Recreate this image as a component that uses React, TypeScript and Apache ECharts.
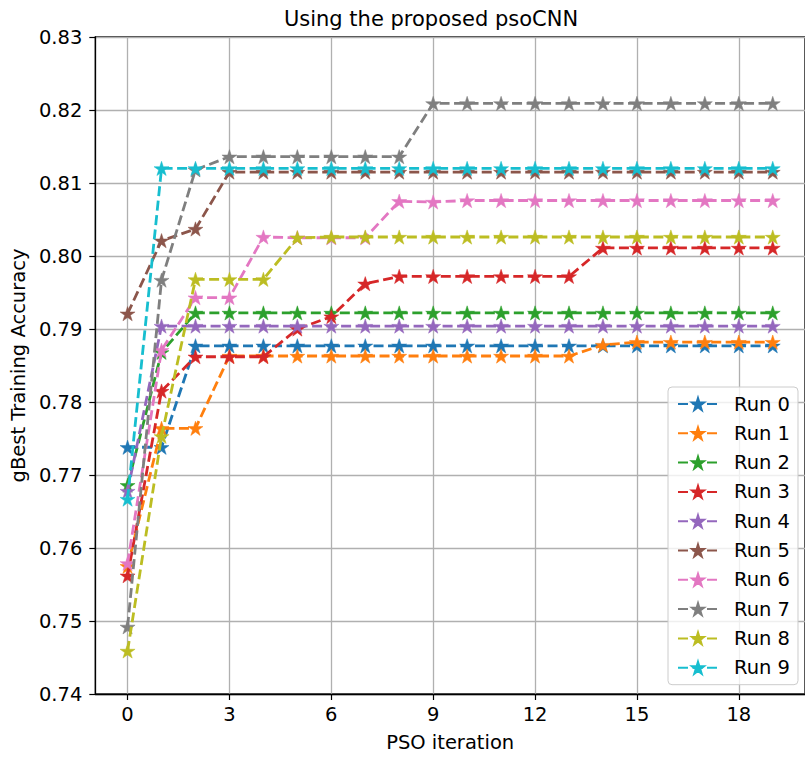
import React, { useEffect, useRef } from "react";
import * as echarts from "echarts";

const iterations = [0, 1, 2, 3, 4, 5, 6, 7, 8, 9, 10, 11, 12, 13, 14, 15, 16, 17, 18, 19];
const xTicks = [0, 3, 6, 9, 12, 15, 18];

const run0 = [0.7738, 0.7738, 0.7877, 0.7877, 0.7877, 0.7877, 0.7877, 0.7877, 0.7877, 0.7877, 0.7877, 0.7877, 0.7877, 0.7877, 0.7877, 0.7877, 0.7877, 0.7877, 0.7877, 0.7877];
const run1 = [0.7575, 0.7764, 0.7764, 0.7863, 0.7863, 0.7863, 0.7863, 0.7863, 0.7863, 0.7863, 0.7863, 0.7863, 0.7863, 0.7863, 0.7878, 0.7882, 0.7882, 0.7882, 0.7882, 0.7882];
const run2 = [0.7686, 0.7868, 0.7922, 0.7922, 0.7922, 0.7922, 0.7922, 0.7922, 0.7922, 0.7922, 0.7922, 0.7922, 0.7922, 0.7922, 0.7922, 0.7922, 0.7922, 0.7922, 0.7922, 0.7922];
const run3 = [0.7562, 0.7815, 0.7862, 0.7862, 0.7862, 0.7900, 0.7917, 0.7962, 0.7972, 0.7972, 0.7972, 0.7972, 0.7972, 0.7972, 0.8011, 0.8011, 0.8011, 0.8011, 0.8011, 0.8011];
const run4 = [0.7678, 0.7904, 0.7904, 0.7904, 0.7904, 0.7904, 0.7904, 0.7904, 0.7904, 0.7904, 0.7904, 0.7904, 0.7904, 0.7904, 0.7904, 0.7904, 0.7904, 0.7904, 0.7904, 0.7904];
const run5 = [0.7921, 0.8021, 0.8037, 0.8115, 0.8115, 0.8115, 0.8115, 0.8115, 0.8115, 0.8115, 0.8115, 0.8115, 0.8115, 0.8115, 0.8115, 0.8115, 0.8115, 0.8115, 0.8115, 0.8115];
const run6 = [0.7579, 0.7871, 0.7943, 0.7943, 0.8026, 0.8025, 0.8025, 0.8025, 0.8075, 0.8074, 0.8076, 0.8076, 0.8076, 0.8076, 0.8076, 0.8076, 0.8076, 0.8076, 0.8076, 0.8076];
const run7 = [0.7492, 0.7967, 0.8118, 0.8136, 0.8136, 0.8136, 0.8136, 0.8136, 0.8136, 0.8209, 0.8209, 0.8209, 0.8209, 0.8209, 0.8209, 0.8209, 0.8209, 0.8209, 0.8209, 0.8209];
const run8 = [0.7459, 0.7753, 0.7968, 0.7968, 0.7968, 0.8025, 0.8026, 0.8026, 0.8026, 0.8026, 0.8026, 0.8026, 0.8026, 0.8026, 0.8026, 0.8026, 0.8026, 0.8026, 0.8026, 0.8026];
const run9 = [0.7667, 0.8120, 0.8120, 0.8120, 0.8120, 0.8120, 0.8120, 0.8120, 0.8120, 0.8120, 0.8120, 0.8120, 0.8120, 0.8120, 0.8120, 0.8120, 0.8120, 0.8120, 0.8120, 0.8120];

const runs = [run0, run1, run2, run3, run4, run5, run6, run7, run8, run9];
const runNames = ["Run 0", "Run 1", "Run 2", "Run 3", "Run 4", "Run 5", "Run 6", "Run 7", "Run 8", "Run 9"];
const colors = ["#1f77b4", "#ff7f0e", "#2ca02c", "#d62728", "#9467bd", "#8c564b", "#e377c2", "#7f7f7f", "#bcbd22", "#17becf"];

function starPath(): string {
  const pts: string[] = [];
  for (let k = 0; k < 10; k++) {
    const a = (-90 + k * 36) * Math.PI / 180;
    const r = k % 2 === 0 ? 1 : 0.382;
    pts.push(`${(r * Math.cos(a)).toFixed(4)} ${(r * Math.sin(a)).toFixed(4)}`);
  }
  return "path://M" + pts.join(" L") + " Z";
}

const FONT = "DejaVu Sans";

export default function App() {
  const ref = useRef<HTMLDivElement>(null);
  useEffect(() => {
    if (!ref.current) return;
    const chart = echarts.init(ref.current, undefined, { renderer: "svg" });
    const star = starPath();
    const option: any = {
      animation: false,
      backgroundColor: "#ffffff",
      tooltip: { show: false },
      grid: {
        left: 95,
        top: 37,
        width: 715,
        height: 660,
        show: true,
        borderColor: "#000",
        borderWidth: 1.3,
        backgroundColor: "transparent",
      },
      graphic: [
        {
          type: "text",
          x: 431,
          y: 19,
          style: {
            text: "Using the proposed psoCNN",
            fontFamily: FONT,
            fontSize: 21,
            fill: "#000",
            textAlign: "center",
            textVerticalAlign: "middle",
          },
        },
      ],
      xAxis: {
        type: "value",
        min: -0.95,
        max: 19.95,
        name: "PSO iteration",
        nameLocation: "middle",
        nameGap: 38,
        nameTextStyle: { fontFamily: FONT, fontSize: 19.5, color: "#000" },
        axisLine: { show: true, onZero: false, lineStyle: { color: "#000", width: 1.3 } },
        axisTick: { show: true, length: 6, customValues: xTicks, lineStyle: { color: "#000", width: 1.2 } },
        axisLabel: {
          customValues: xTicks,
          margin: 10,
          fontFamily: FONT,
          fontSize: 19.5,
          color: "#000",
        },
        splitLine: { show: true, lineStyle: { color: "#b0b0b0", width: 1.3 } },
      },
      yAxis: {
        type: "value",
        min: 0.74,
        max: 0.83,
        interval: 0.01,
        name: "gBest Training Accuracy",
        nameLocation: "middle",
        nameGap: 66,
        nameTextStyle: { fontFamily: FONT, fontSize: 19.5, color: "#000" },
        axisLine: { show: true, onZero: false, lineStyle: { color: "#000", width: 1.3 } },
        axisTick: { show: true, length: 6, lineStyle: { color: "#000", width: 1.2 } },
        axisLabel: {
          margin: 13,
          fontFamily: FONT,
          fontSize: 19.5,
          color: "#000",
          formatter: (v: number) => v.toFixed(2),
        },
        splitLine: { show: true, lineStyle: { color: "#b0b0b0", width: 1.3 } },
      },
      legend: {
        orient: "vertical",
        left: 668,
        top: 387,
        data: runNames,
        itemWidth: 40,
        itemHeight: 15,
        itemGap: 9.3,
        padding: [7, 8, 7, 9],
        backgroundColor: "rgba(255,255,255,0.8)",
        borderColor: "#cccccc",
        borderWidth: 1,
        borderRadius: 4,
        selectedMode: false,
        textStyle: {
          fontFamily: FONT,
          fontSize: 19.5,
          color: "#000",
          lineHeight: 20,
          padding: [0, 0, 0, 11],
        },
      },
      series: runs.map((vals, i) => ({
        type: "line",
        name: runNames[i],
        data: iterations.map((x, j) => [x, vals[j]]),
        symbol: star,
        symbolSize: 15,
        symbolKeepAspect: true,
        showSymbol: true,
        silent: true,
        z: 2 + i,
        lineStyle: { color: colors[i], width: 2.8, type: [10, 4.5] },
        itemStyle: { color: colors[i], borderColor: colors[i], borderWidth: 0.5 },
        emphasis: { disabled: true },
      })),
    };
    chart.setOption(option);
    return () => chart.dispose();
  }, []);
  return (
    <div style={{ position: "absolute", left: 0, top: 0, width: 805, height: 757, overflow: "hidden" }}>
      <div ref={ref} style={{ width: 805, height: 757 }} />
    </div>
  );
}
